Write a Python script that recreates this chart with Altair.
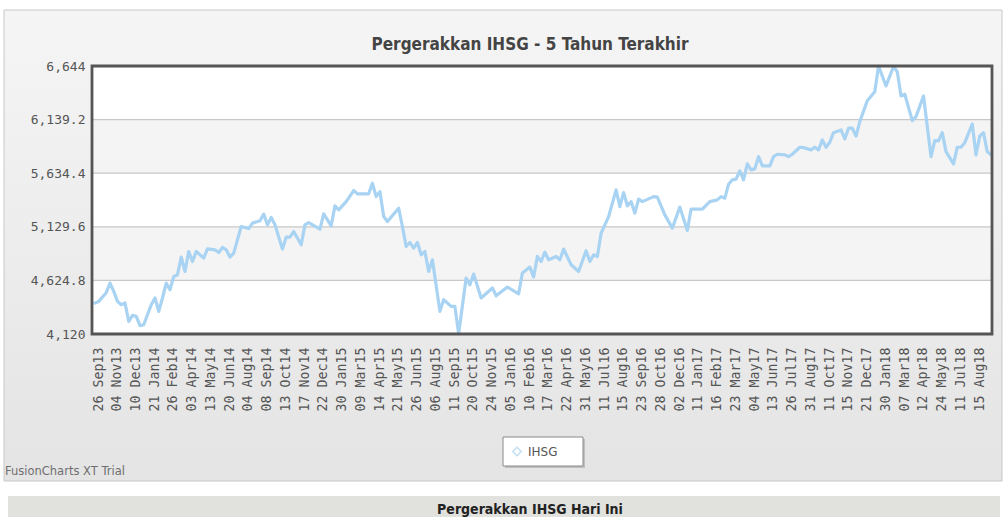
import json
import altair as alt
import pandas as pd

# ---- data ----
week_index = [0, 1, 3, 4, 5, 6, 7, 8, 9, 10, 11, 12, 13, 15, 16, 17, 18, 19, 20, 21,
              22, 23, 24, 25, 26, 27, 29, 30, 32, 33, 34, 35, 36, 37, 39, 41, 42, 44, 45, 46,
              47, 48, 50, 51, 52, 53, 55, 56, 57, 60, 61, 63, 64, 65, 67, 69, 70, 73, 74, 75,
              76, 77, 78, 81, 82, 83, 84, 85, 86, 87, 88, 89, 90, 92, 93, 95, 96, 97, 99, 100,
              101, 103, 106, 107, 110, 113, 114, 116, 117, 118, 119, 120, 121, 123, 124, 125, 127, 129, 131, 132,
              133, 134, 135, 137, 139, 140, 141, 142, 143, 144, 145, 146, 149, 150, 152, 154, 156, 158, 159, 162,
              164, 166, 167, 168, 169, 170, 171, 172, 173, 174, 175, 176, 177, 178, 180, 181, 182, 184, 185, 186,
              188, 189, 191, 192, 193, 194, 195, 196, 197, 199, 200, 201, 202, 203, 204, 206, 208, 209, 211, 213,
              214, 215, 216, 218, 219, 221, 223, 224, 225, 226, 227, 229, 230, 231, 232, 234, 235, 236, 237, 238,
              239]
ihsg = [4412, 4427, 4509, 4600, 4521, 4427, 4396, 4412, 4239, 4295, 4286, 4198, 4207, 4396, 4459, 4333, 4459, 4600, 4537, 4662,
        4678, 4844, 4709, 4897, 4803, 4897, 4835, 4922, 4913, 4888, 4935, 4913, 4844, 4882, 5132, 5113, 5164, 5186, 5249, 5148,
        5217, 5148, 4920, 5032, 5032, 5085, 4960, 5148, 5170, 5108, 5252, 5139, 5327, 5289, 5367, 5471, 5440, 5440, 5540, 5414,
        5461, 5226, 5179, 5305, 5132, 4944, 4982, 4929, 4982, 4866, 4897, 4709, 4819, 4333, 4443, 4380, 4380, 4122, 4647, 4584,
        4684, 4459, 4553, 4480, 4562, 4499, 4694, 4750, 4656, 4850, 4803, 4891, 4819, 4850, 4819, 4920, 4772, 4709, 4904, 4803,
        4866, 4850, 5070, 5226, 5477, 5320, 5452, 5327, 5367, 5258, 5390, 5367, 5414, 5409, 5242, 5117, 5315, 5095, 5296, 5296,
        5367, 5383, 5414, 5399, 5531, 5572, 5578, 5656, 5572, 5722, 5666, 5675, 5791, 5703, 5703, 5791, 5813, 5807, 5791, 5813,
        5879, 5875, 5854, 5879, 5854, 5948, 5879, 5926, 6016, 6042, 5957, 6058, 6058, 5985, 6120, 6317, 6402, 6644, 6456, 6640,
        6590, 6362, 6378, 6129, 6167, 6362, 5791, 5941, 5938, 6016, 5838, 5722, 5879, 5879, 5922, 6098, 5807, 5985, 6016, 5838,
        5807]

x_labels = ["26 Sep13", "04 Nov13", "10 Dec13", "21 Jan14", "26 Feb14", "03 Apr14", "13 May14", "20 Jun14",
            "04 Aug14", "08 Sep14", "13 Oct14", "17 Nov14", "22 Dec14", "30 Jan15", "09 Mar15", "14 Apr15",
            "21 May15", "26 Jun15", "06 Aug15", "11 Sep15", "20 Oct15", "24 Nov15", "05 Jan16", "10 Feb16",
            "17 Mar16", "22 Apr16", "31 May16", "11 Jul16", "15 Aug16", "23 Sep16", "28 Oct16", "02 Dec16",
            "11 Jan17", "16 Feb17", "23 Mar17", "04 May17", "13 Jun17", "26 Jul17", "31 Aug17", "11 Oct17",
            "15 Nov17", "21 Dec17", "30 Jan18", "07 Mar18", "12 Apr18", "24 May18", "11 Jul18", "15 Aug18"]
label_step = 5
n_points = 240

y_ticks = [4120, 4624.8, 5129.6, 5634.4, 6139.2, 6644]
band_lo = [4624.8, 5634.4]
band_hi = [5129.6, 6139.2]

title_text = "Pergerakkan IHSG - 5 Tahun Terakhir"
series_name = "IHSG"
trial_text = "FusionCharts XT Trial"
bottom_text = "Pergerakkan IHSG Hari Ini"

# ---- layout ----
W, H = 900, 268
PAD = {"left": 92, "top": 66, "right": 14, "bottom": 183}

LINE_COLOR = "#a9d3f2"
MONO = "DejaVu Sans Mono"
COND = "DejaVu Sans Condensed, Liberation Sans Narrow, DejaVu Sans"

df = pd.DataFrame({"idx": week_index, "v": ihsg})
bands = pd.DataFrame({"lo": band_lo, "hi": band_hi})
grid_df = pd.DataFrame({"g": y_ticks[1:-1]})
one = pd.DataFrame({"a": [0]})

x_scale = alt.Scale(domain=[0, n_points - 1], range=[3, W - 1], nice=False, zero=False)
y_scale = alt.Scale(domain=[y_ticks[0], y_ticks[-1]], nice=False, zero=False)

label_expr = json.dumps(x_labels) + "[round(datum.value / %d)]" % label_step

# outer panel
panel = alt.Chart(one).mark_rect(
    fill=alt.Gradient(gradient="linear", x1=0, y1=0, x2=0, y2=1,
                      stops=[alt.GradientStop(color="#f5f5f5", offset=0),
                             alt.GradientStop(color="#e4e4e4", offset=1)]),
    stroke="#c8c8c8", strokeWidth=1
).encode(x=alt.value(-88), x2=alt.value(910), y=alt.value(-56), y2=alt.value(415))

plot_bg = alt.Chart(one).mark_rect(fill="white").encode(
    x=alt.value(0), x2=alt.value(W), y=alt.value(0), y2=alt.value(H))

band_layer = alt.Chart(bands).mark_rect(fill="#f4f4f4").encode(
    x=alt.value(0), x2=alt.value(W),
    y=alt.Y("lo:Q", scale=y_scale,
            axis=alt.Axis(values=y_ticks, format=",.1~f", title="", domain=False, ticks=False,
                          labelPadding=7, labelFlush=False, labelFont=MONO, labelFontSize=13,
                          labelColor="#555555", grid=False, zindex=2)),
    y2="hi:Q")

grid_layer = alt.Chart(grid_df).mark_rule(color="#c8c8c8", strokeWidth=1.3).encode(
    x=alt.value(0), x2=alt.value(W), y=alt.Y("g:Q", scale=y_scale))

line = alt.Chart(df).mark_line(color=LINE_COLOR, strokeWidth=3.2, strokeJoin="round",
                               strokeCap="round").encode(
    x=alt.X("idx:Q", scale=x_scale,
            axis=alt.Axis(values=list(range(0, n_points, label_step))[:len(x_labels)],
                          labelExpr=label_expr, labelAngle=270, labelAlign="right",
                          labelBaseline="middle", labelPadding=13, labelOffset=3, labelFlush=False,
                          labelOverlap=False, labelBound=False, domain=False, ticks=False,
                          grid=False, title="", labelFont=MONO, labelFontSize=13.3,
                          labelColor="#555555", zindex=2)),
    y=alt.Y("v:Q", scale=y_scale))

border = alt.Chart(one).mark_rect(fill="transparent", stroke="#555555", strokeWidth=2.8).encode(
    x=alt.value(0), x2=alt.value(W), y=alt.value(0), y2=alt.value(H))

title = alt.Chart(one).mark_text(text=title_text, font=COND, fontSize=17, fontWeight="bold",
                                 color="#444444", align="center", baseline="middle").encode(
    x=alt.value(438), y=alt.value(-21))

legend_shadow = alt.Chart(one).mark_rect(fill="#9a9a9a", opacity=0.5).encode(
    x=alt.value(413), x2=alt.value(493), y=alt.value(373), y2=alt.value(402))
legend_box = alt.Chart(one).mark_rect(fill="white", stroke="#8a8a8a", strokeWidth=1).encode(
    x=alt.value(411), x2=alt.value(491), y=alt.value(371), y2=alt.value(400))
legend_icon = alt.Chart(one).mark_point(shape="diamond", filled=False, color=LINE_COLOR,
                                        size=70, strokeWidth=1.5).encode(
    x=alt.value(425), y=alt.value(385.5))
legend_text = alt.Chart(one).mark_text(text=series_name, font="DejaVu Sans", fontSize=12, color="#555555",
                                       align="left", baseline="middle").encode(
    x=alt.value(436), y=alt.value(386))

trial = alt.Chart(one).mark_text(text=trial_text, font="DejaVu Sans", fontSize=11.5, color="#6f6f6f",
                                 align="left", baseline="middle").encode(
    x=alt.value(-87), y=alt.value(406))

bottom_panel = alt.Chart(one).mark_rect(fill="#e1e1dd").encode(
    x=alt.value(-84), x2=alt.value(908), y=alt.value(430), y2=alt.value(460))
bottom_label = alt.Chart(one).mark_text(text=bottom_text, font=COND, fontSize=14, fontWeight="bold",
                                        color="#222222", align="center", baseline="middle").encode(
    x=alt.value(438), y=alt.value(443.5))

chart = alt.layer(
    panel, plot_bg, band_layer, grid_layer, line, border, title,
    legend_shadow, legend_box, legend_icon, legend_text, trial, bottom_panel, bottom_label
).properties(
    width=W, height=H,
    padding=PAD,
    autosize=alt.AutoSizeParams(type="none"),
    background="white"
).configure_view(stroke=None)

chart.save("out.html", embed_options={"renderer": "svg", "actions": False})
